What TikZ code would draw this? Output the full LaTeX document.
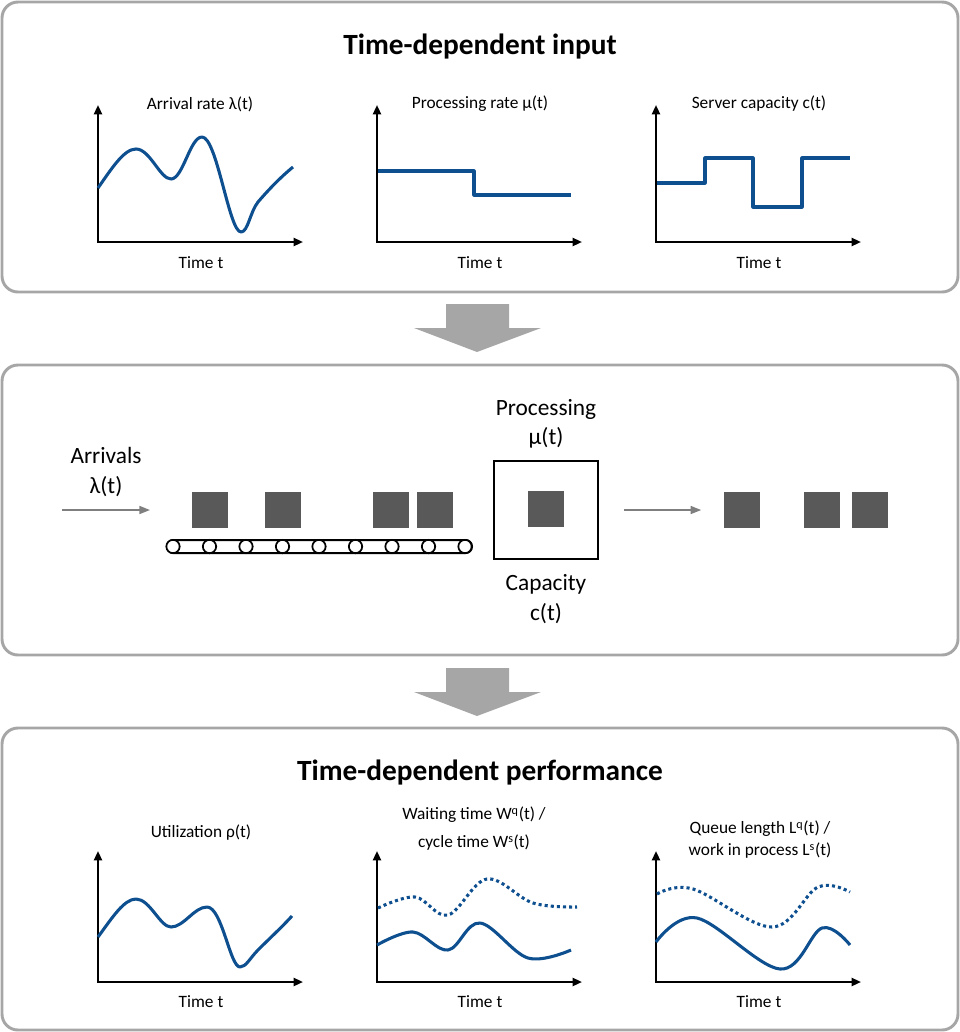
\documentclass[tikz,border=0pt]{standalone}
\usepackage{fontspec}
\setmainfont{Carlito}
\usetikzlibrary{arrows.meta}
\definecolor{panelgray}{HTML}{A6A6A6}
\definecolor{boxgray}{HTML}{595959}
\definecolor{curveblue}{HTML}{0E4F8F}
\definecolor{flowgray}{HTML}{7F7F7F}
\tikzset{
  panel/.style={draw=panelgray, line width=2.2pt, rounded corners=12pt},
  axis/.style={line width=1.6pt, {Triangle[length=7pt,width=6pt]}-{Triangle[length=7pt,width=6pt]}},
  curve/.style={curveblue, line width=2.3pt, line join=round},
  dotcurve/.style={curve, dash pattern=on 2.3pt off 2.3pt},
  job/.style={fill=boxgray, draw=none, minimum size=27pt, inner sep=0pt},
  roller/.style={circle, draw, fill=white, line width=1.3pt, minimum size=10pt, inner sep=0pt},
  chartlabel/.style={font=\fontsize{13}{20}\selectfont, align=center},
  bigtitle/.style={font=\fontsize{22}{26}\selectfont\bfseries},
  proclabel/.style={font=\fontsize{17.5}{22}\selectfont, align=center},
  flow/.style={flowgray, line width=1.2pt, -{Triangle[length=8pt,width=6pt]}},
  downarrow/.style={fill=panelgray, draw=none}
}
\begin{document}
\begin{tikzpicture}[x=0.75pt,y=-0.75pt]
\useasboundingbox (0,0) rectangle (960,1032);
% panels
\draw[panel] (2,2) rectangle (958,292);
\draw[panel] (2,365) rectangle (958,655);
\draw[panel] (2,728) rectangle (958,1030);
\fill[downarrow] (446,304) -- (509,304) -- (509,328) -- (541,328) -- (477,352) -- (414,328) -- (446,328) -- cycle;
\fill[downarrow] (446,668) -- (509,668) -- (509,692) -- (541,692) -- (477,716) -- (414,692) -- (446,692) -- cycle;
% time-dependent input
\node[bigtitle] (intitle) at (480,47) {Time-dependent input};
\draw[axis] (98,105) -- (98,242) -- (303,242);
\draw[axis] (377,105) -- (377,242) -- (582,242);
\draw[axis] (656,105) -- (656,242) -- (861,242);
\node[chartlabel] (lam) at (200,104) {Arrival rate λ(t)};
\node[chartlabel] (mu) at (480,104) {Processing rate μ(t)};
\node[chartlabel] (cap) at (759,104) {Server capacity c(t)};
\node[chartlabel] (t1) at (201,263) {Time t};
\node[chartlabel] (t2) at (480,263) {Time t};
\node[chartlabel] (t3) at (759,263) {Time t};
\draw[curve] (98,188) .. controls (112,168) and (124,149) .. (136,149)
  .. controls (150,149) and (160,179) .. (171,179)
  .. controls (183,179) and (190,137) .. (202,137)
  .. controls (217,137) and (229,232) .. (241,232)
  .. controls (248,232) and (250,212) .. (258,202)
  .. controls (270,188) and (282,176) .. (293,167);
\draw[curve] (378,171) -- (474,171) -- (474,195) -- (571,195);
\draw[curve] (657,183) -- (705,183) -- (705,158) -- (753,158) -- (753,207) -- (802,207) -- (802,158) -- (850,158);
% queue
\node[proclabel] (arrlab) at (106,472) {Arrivals\\λ(t)};
\coordinate (arrin) at (62,510);
\coordinate (arrend) at (150,510);
\draw[flow] (arrin) -- (arrend);
\draw[line width=1.5pt, rounded corners=4.8pt] (167,540) rectangle (472,553);
\foreach \i in {0,...,8}
  \node[roller] (r\i) at ({173+36.5*\i},546.5) {};
\node[job] (q1) at (209.5,510) {};
\node[job] (q2) at (282.5,510) {};
\node[job] (q3) at (391,510) {};
\node[job] (q4) at (435,510) {};
\node[draw, line width=1.5pt, minimum width=78pt, minimum height=73.5pt] (server) at (546,510) {};
\node[job] (inserv) at (545.5,509) {};
\node[proclabel] (proclab) at (546,424) {Processing\\μ(t)};
\node[proclabel] (caplab) at (546,599) {Capacity\\c(t)};
\node[job] (out1) at (741.5,510) {};
\node[job] (out2) at (821.5,510) {};
\node[job] (out3) at (869.5,510) {};
\draw[flow] ([xshift=18.75pt]server.east) -- ([xshift=-16.5pt]out1.west);
% time-dependent performance
\node[bigtitle] (perftitle) at (480,773) {Time-dependent performance};
\draw[axis] (98,851) -- (98,982) -- (303,982);
\draw[axis] (377,851) -- (377,982) -- (582,982);
\draw[axis] (656,851) -- (656,982) -- (861,982);
\node[chartlabel] (rho) at (201,833) {Utilization ρ(t)};
\node[chartlabel, font=\fontsize{13}{21}\selectfont] (wait) at (474,829) {Waiting time W\textsuperscript{q}(t) /\\cycle time W\textsuperscript{s}(t)};
\node[chartlabel, font=\fontsize{13}{16.5}\selectfont] (queue) at (760,840) {Queue length L\textsuperscript{q}(t) /\\work in process L\textsuperscript{s}(t)};
\node[chartlabel] (t4) at (201,1002) {Time t};
\node[chartlabel] (t5) at (480,1002) {Time t};
\node[chartlabel] (t6) at (759,1002) {Time t};
\draw[curve] (98,937) .. controls (112,918) and (124,899) .. (136,899)
  .. controls (150,899) and (160,927) .. (171,927)
  .. controls (184,927) and (194,907) .. (207,907)
  .. controls (222,907) and (230,967) .. (240,967)
  .. controls (246,967) and (250,958) .. (258,950)
  .. controls (270,938) and (282,927) .. (292,916);
\draw[curve] plot[smooth, tension=0.6] coordinates {(377,945) (413,932) (448,950) (480,923) (528,958) (571,950)};
\draw[dotcurve] plot[smooth, tension=0.6] coordinates {(378,908) (415,897) (448,915) (487,879) (533,903) (577,907)};
\draw[curve] plot[smooth, tension=0.6] coordinates {(656,942) (697,918) (780,969) (822,928) (850,945)};
\draw[dotcurve] plot[smooth, tension=0.6] coordinates {(657,894) (693,889) (772,927) (818,887) (850,892)};
\end{tikzpicture}
\end{document}
